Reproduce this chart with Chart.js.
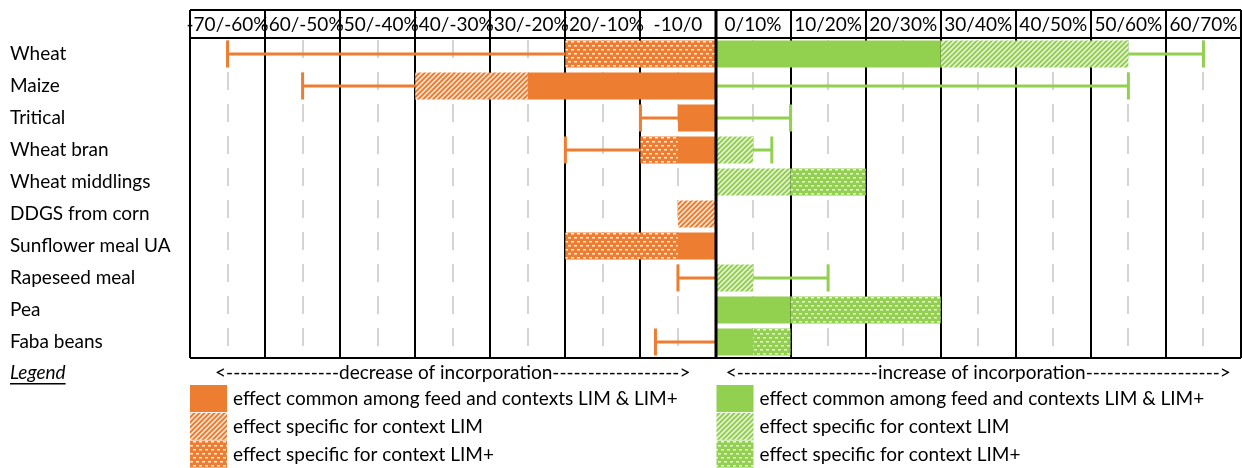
<!DOCTYPE html>
<html lang="en">
<head>
<meta charset="UTF-8">
<title>Feed incorporation effects</title>
<style>
  body { margin: 0; background: #FFFFFF; }
  .chart-box { position: relative; width: 1242px; height: 468px; }
</style>
</head>
<body>
<div class="chart-box"><canvas id="effectChart" width="1242" height="468"></canvas></div>
<script src="https://cdn.jsdelivr.net/npm/chart.js"></script>
<script>
// Feeds (rows) and header column labels
const feeds = ['Wheat', 'Maize', 'Tritical', 'Wheat bran', 'Wheat middlings', 'DDGS from corn',
  'Sunflower meal UA', 'Rapeseed meal', 'Pea', 'Faba beans'];
const headerLabels = ['-70/-60%', '-60/-50%', '-50/-40%', '-40/-30%', '-30/-20%', '-20/-10%', '-10/0',
  '0/10%', '10/20%', '20/30%', '30/40%', '40/50%', '50/60%', '60/70%'];

// decrease of incorporation (%), floating bars [from, to]
const decCommon  = [null, [-25, 0], [-5, 0], [-5, 0], null, null, [-5, 0], null, null, null];
const decLim     = [null, [-40, -25], null, null, null, [-5, 0], null, null, null, null];
const decLimPlus = [[-20, 0], null, null, [-10, -5], null, null, [-20, -5], null, null, null];
const decRange   = [-65, -55, -10, -20, null, null, null, -5, null, -8];   // end of the range line

// increase of incorporation (%)
const incCommon  = [[0, 30], null, null, null, null, null, null, null, [0, 10], [0, 5]];
const incLim     = [[30, 55], null, null, [0, 5], [0, 10], null, null, [0, 5], null, null];
const incLimPlus = [null, null, null, null, [10, 20], null, null, null, [10, 30], [5, 10]];
const incRange   = [65, 55, 10, 7.5, null, null, null, 15, null, null];

const legendTexts = ['effect common among feed and contexts LIM & LIM+',
  'effect specific for context LIM', 'effect specific for context LIM+'];

const ORANGE = '#ED7D31';
const GREEN = '#92D050';
const FONT = 'Lato, "Open Sans", sans-serif';
const FSIZE = 19;
const barPct = 0.85;

// wide upward diagonal pattern
function hatch(color) {
  const c = document.createElement('canvas');
  c.width = 5; c.height = 5;
  const g = c.getContext('2d');
  g.fillStyle = color;
  g.fillRect(0, 0, 5, 5);
  g.strokeStyle = 'rgba(255,255,255,0.9)';
  g.lineWidth = 1.4;
  g.beginPath();
  g.moveTo(-1, 1); g.lineTo(1, -1);
  g.moveTo(0, 5); g.lineTo(5, 0);
  g.moveTo(4, 6); g.lineTo(6, 4);
  g.stroke();
  return g.createPattern(c, 'repeat');
}

// small brick-like dashes pattern
function dots(color) {
  const c = document.createElement('canvas');
  c.width = 6; c.height = 8;
  const g = c.getContext('2d');
  g.fillStyle = color;
  g.fillRect(0, 0, 6, 8);
  g.fillStyle = 'rgba(255,255,255,0.85)';
  g.fillRect(1, 1, 3, 1.5);
  g.fillRect(4, 5, 2, 1.5);
  g.fillRect(0, 5, 1, 1.5);
  return g.createPattern(c, 'repeat');
}

const fills = {
  dec: [ORANGE, hatch(ORANGE), dots(ORANGE)],
  inc: [GREEN, hatch(GREEN), dots(GREEN)]
};

function barSet(label, data, fill) {
  return { label, data, backgroundColor: fill, borderWidth: 0, grouped: false,
    barPercentage: barPct, categoryPercentage: 1 };
}

// grid lines, header boxes, range lines and the legend block
const gridPlugin = {
  id: 'gridBoxes',
  beforeDatasetsDraw(chart) {
    const { ctx, chartArea: a, scales: { x } } = chart;
    ctx.save();
    // dashed grey lines at the middle of each column
    ctx.strokeStyle = '#D4D4D4';
    ctx.lineWidth = 2;
    ctx.setLineDash([18, 14]);
    for (let v = -65; v < 70; v += 10) {
      const px = Math.round(x.getPixelForValue(v));
      ctx.beginPath();
      ctx.moveTo(px, a.top + 2);
      ctx.lineTo(px, a.bottom);
      ctx.stroke();
    }
    ctx.setLineDash([]);
    ctx.strokeStyle = '#000000';
    for (let v = -70; v <= 70; v += 10) {
      const px = Math.round(x.getPixelForValue(v));
      ctx.lineWidth = 2;
      ctx.beginPath();
      ctx.moveTo(px, 10);
      ctx.lineTo(px, a.bottom);
      ctx.stroke();
    }
    ctx.lineWidth = 2;
    ctx.beginPath();
    ctx.moveTo(a.left, 10); ctx.lineTo(a.right, 10);
    ctx.moveTo(a.left, a.top); ctx.lineTo(a.right, a.top);
    ctx.moveTo(a.left, a.bottom); ctx.lineTo(a.right, a.bottom);
    ctx.stroke();

    // header labels
    ctx.fillStyle = '#000000';
    ctx.font = FSIZE + 'px ' + FONT;
    ctx.textAlign = 'center';
    ctx.textBaseline = 'middle';
    headerLabels.forEach((t, i) => {
      ctx.fillText(t, x.getPixelForValue(-65 + i * 10), 25);
    });
    ctx.restore();
  },
  afterDatasetsDraw(chart) {
    const { ctx, chartArea: a, scales: { x, y } } = chart;
    ctx.save();
    // range lines with end caps
    const half = (y.getPixelForValue(1) - y.getPixelForValue(0)) * barPct / 2;
    const sides = [
      { tips: decRange, bars: [decCommon, decLim, decLimPlus], color: ORANGE, pick: Math.min },
      { tips: incRange, bars: [incCommon, incLim, incLimPlus], color: GREEN, pick: Math.max }
    ];
    ctx.lineWidth = 3;
    sides.forEach(s => {
      ctx.strokeStyle = s.color;
      s.tips.forEach((tip, i) => {
        if (tip === null) return;
        let base = 0;
        s.bars.forEach(b => { if (b[i]) base = s.pick(base, b[i][0], b[i][1]); });
        const cy = y.getPixelForValue(i);
        const x0 = x.getPixelForValue(base);
        const x1 = x.getPixelForValue(tip);
        ctx.beginPath();
        ctx.moveTo(x0, cy); ctx.lineTo(x1, cy);
        ctx.moveTo(x1, cy - half); ctx.lineTo(x1, cy + half);
        ctx.stroke();
      });
    });
    // zero line
    const zx = Math.round(x.getPixelForValue(0));
    ctx.strokeStyle = '#000000';
    ctx.lineWidth = 3;
    ctx.beginPath();
    ctx.moveTo(zx, 10); ctx.lineTo(zx, a.bottom + 1);
    ctx.stroke();
    ctx.restore();
  },
  afterDraw(chart) {
    const { ctx, chartArea: a, scales: { x } } = chart;
    ctx.save();
    ctx.fillStyle = '#000000';
    ctx.textBaseline = 'middle';
    // "Legend"
    ctx.font = 'italic ' + FSIZE + 'px ' + FONT;
    ctx.textAlign = 'left';
    ctx.fillText('Legend', 10, 373);
    const lw = ctx.measureText('Legend').width;
    ctx.fillRect(10, 383, lw, 1.5);

    ctx.font = FSIZE + 'px ' + FONT;
    ctx.textAlign = 'center';
    ctx.fillText('<----------------decrease of incorporation------------------>', x.getPixelForValue(-35), 373);
    ctx.fillText('<--------------------increase of incorporation------------------->', x.getPixelForValue(35), 373);

    ctx.textAlign = 'left';
    const sw = [{ x0: a.left, f: fills.dec }, { x0: x.getPixelForValue(0) + 1, f: fills.inc }];
    sw.forEach(s => {
      legendTexts.forEach((t, i) => {
        const top = 385 + i * 27.8;
        ctx.fillStyle = s.f[i];
        ctx.fillRect(s.x0, top, 37, 27);
        ctx.fillStyle = '#000000';
        ctx.fillText(t, s.x0 + 43, top + 14);
      });
    });
    ctx.restore();
  }
};

const chart = new Chart(document.getElementById('effectChart'), {
  type: 'bar',
  data: {
    labels: feeds,
    datasets: [
      barSet('decrease common', decCommon, fills.dec[0]),
      barSet('decrease LIM', decLim, fills.dec[1]),
      barSet('decrease LIM+', decLimPlus, fills.dec[2]),
      barSet('increase common', incCommon, fills.inc[0]),
      barSet('increase LIM', incLim, fills.inc[1]),
      barSet('increase LIM+', incLimPlus, fills.inc[2])
    ]
  },
  options: {
    indexAxis: 'y',
    responsive: false,
    animation: false,
    devicePixelRatio: 1,
    layout: { padding: { left: 10, top: 38, right: 1, bottom: 110 } },
    scales: {
      x: { type: 'linear', min: -70, max: 70, display: false },
      y: {
        grid: { display: false },
        border: { display: false },
        ticks: { crossAlign: 'far', padding: 0, color: '#000000', font: { family: FONT, size: FSIZE } },
        afterFit: s => { s.width = 180; }
      }
    },
    plugins: { legend: { display: false }, tooltip: { enabled: false } }
  },
  plugins: [gridPlugin]
});
</script>
</body>
</html>
